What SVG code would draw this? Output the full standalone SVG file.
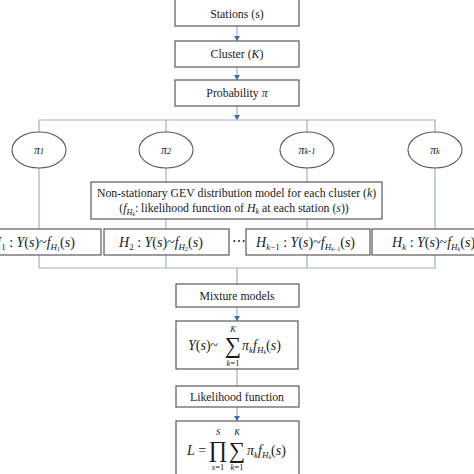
<svg xmlns="http://www.w3.org/2000/svg" width="474" height="474" viewBox="0 0 474 474">
<style>
.box{fill:#fff;stroke:#5a5a5a;stroke-width:1.2}
.ell{fill:#fff;stroke:#5a5a5a;stroke-width:1.1}
.con{fill:none;stroke:#9fb0c8;stroke-width:1.2}
.t{font-family:"Liberation Serif","Times New Roman",serif;font-size:11.8px;fill:#1a1a1a;text-anchor:middle}
.m{font-family:"Liberation Serif","Times New Roman",serif;font-size:14px;fill:#1a1a1a}
.i{font-style:italic}
.big{font-family:"Liberation Serif","Times New Roman",serif;font-size:23px;fill:#1a1a1a;text-anchor:middle}
.sm{font-family:"Liberation Serif","Times New Roman",serif;font-size:8.5px;font-style:italic;fill:#1a1a1a;text-anchor:middle}
</style>
<defs>
<marker id="ah" markerUnits="userSpaceOnUse" markerWidth="6" markerHeight="6" refX="5" refY="3" orient="auto">
<path d="M0,0 L5,3 L0,6 z" fill="#3d6bb0"/>
</marker>
</defs>
<rect width="474" height="474" fill="#fff"/>
<g id="connectors">
<line class="con" x1="237" y1="26" x2="237" y2="41" marker-end="url(#ah)"/>
<line class="con" x1="237" y1="67" x2="237" y2="80" marker-end="url(#ah)"/>
<line class="con" x1="237" y1="106" x2="237" y2="120" marker-end="url(#ah)"/>
<polyline class="con" points="39,132 39,120 435,120 435,132"/>
<line class="con" x1="166" y1="120" x2="166" y2="132"/>
<line class="con" x1="307" y1="120" x2="307" y2="132"/>
<polyline class="con" points="39,168 39,268 435,268 435,168"/>
<line class="con" x1="166" y1="168" x2="166" y2="268"/>
<line class="con" x1="307" y1="168" x2="307" y2="268"/>
<line class="con" x1="237" y1="268" x2="237" y2="284"/>
<line class="con" x1="237" y1="307" x2="237" y2="321" marker-end="url(#ah)"/>
<line class="con" x1="237" y1="369" x2="237" y2="386"/>
<line class="con" x1="237" y1="407" x2="237" y2="421" marker-end="url(#ah)"/>
</g>
<g id="stations">
<rect class="box" x="175" y="-1" width="124" height="27"/>
<text class="t" x="237" y="18">Stations (s)</text>
</g>
<g id="cluster">
<rect class="box" x="175" y="41" width="124" height="26"/>
<text class="t" x="237" y="58">Cluster (<tspan class="i">K</tspan>)</text>
</g>
<g id="probability">
<rect class="box" x="175" y="80" width="124" height="26"/>
<text class="t" x="237" y="97">Probability <tspan class="i">π</tspan></text>
</g>
<g id="pi1">
<ellipse class="ell" cx="39" cy="150" rx="27" ry="18"/>
<text class="t" x="39" y="154"><tspan class="i">π</tspan><tspan class="i" font-size="8.5">1</tspan></text>
</g>
<g id="pi2">
<ellipse class="ell" cx="166" cy="150" rx="27" ry="18"/>
<text class="t" x="166" y="154"><tspan class="i">π</tspan><tspan class="i" font-size="8.5">2</tspan></text>
</g>
<g id="pik1">
<ellipse class="ell" cx="307" cy="150" rx="27" ry="18"/>
<text class="t" x="307" y="154"><tspan class="i">π</tspan><tspan class="i" font-size="8.5">k-1</tspan></text>
</g>
<g id="pik">
<ellipse class="ell" cx="435" cy="150" rx="27" ry="18"/>
<text class="t" x="435" y="154"><tspan class="i">π</tspan><tspan class="i" font-size="8.5">k</tspan></text>
</g>
<g id="gev">
<rect class="box" x="91" y="182" width="291" height="37"/>
<text class="t" x="236.5" y="197">Non-stationary GEV distribution model for each cluster (<tspan class="i">k</tspan>)</text>
<text class="t" x="234" y="212">(<tspan class="i">f</tspan><tspan class="i" font-size="8" dy="2.5">H</tspan><tspan class="i" font-size="6" dy="1.5">k</tspan><tspan dy="-4">: likelihood function of </tspan><tspan class="i">H</tspan><tspan class="i" font-size="8" dy="2">k</tspan><tspan dy="-2"> at each station (</tspan><tspan class="i">s</tspan>))</text>
</g>
<g id="h1">
<rect class="box" x="-25" y="229" width="126" height="26"/>
<text class="m" x="-9" y="247"><tspan class="i">H</tspan><tspan font-size="9" dy="2.5">1</tspan><tspan dy="-2.5"> : </tspan><tspan class="i">Y</tspan>(<tspan class="i">s</tspan>)~<tspan class="i">f</tspan><tspan class="i" font-size="9" dy="2.5">H</tspan><tspan font-size="6" dy="1.5">1</tspan><tspan dy="-4">(</tspan><tspan class="i">s</tspan>)</text>
</g>
<g id="h2">
<rect class="box" x="104" y="229" width="125" height="26"/>
<text class="m" x="119" y="247"><tspan class="i">H</tspan><tspan font-size="9" dy="2.5">2</tspan><tspan dy="-2.5"> : </tspan><tspan class="i">Y</tspan>(<tspan class="i">s</tspan>)~<tspan class="i">f</tspan><tspan class="i" font-size="9" dy="2.5">H</tspan><tspan font-size="6" dy="1.5">2</tspan><tspan dy="-4">(</tspan><tspan class="i">s</tspan>)</text>
</g>
<text class="m" x="232" y="246">⋯</text>
<g id="hk1">
<rect class="box" x="246" y="229" width="124" height="26"/>
<text class="m" x="256" y="247"><tspan class="i">H</tspan><tspan class="i" font-size="9" dy="2.5">k</tspan><tspan font-size="9">−1</tspan><tspan dy="-2.5"> : </tspan><tspan class="i">Y</tspan>(<tspan class="i">s</tspan>)~<tspan class="i">f</tspan><tspan class="i" font-size="9" dy="2.5">H</tspan><tspan class="i" font-size="6" dy="1.5">k</tspan><tspan font-size="6">−1</tspan><tspan dy="-4">(</tspan><tspan class="i">s</tspan>)</text>
</g>
<g id="hk">
<rect class="box" x="372" y="229" width="126" height="26"/>
<text class="m" x="392" y="247"><tspan class="i">H</tspan><tspan class="i" font-size="9" dy="2.5">k</tspan><tspan dy="-2.5"> : </tspan><tspan class="i">Y</tspan>(<tspan class="i">s</tspan>)~<tspan class="i">f</tspan><tspan class="i" font-size="9" dy="2.5">H</tspan><tspan class="i" font-size="6" dy="1.5">k</tspan><tspan dy="-4">(</tspan><tspan class="i">s</tspan>)</text>
</g>
<g id="mixture">
<rect class="box" x="176" y="284" width="123" height="23"/>
<text class="t" x="237" y="300">Mixture models</text>
</g>
<g id="mixformula">
<rect class="box" x="176" y="321" width="122" height="48"/>
<text class="m" x="188" y="350"><tspan class="i">Y</tspan>(<tspan class="i">s</tspan>)~</text>
<text class="big" x="233" y="353">∑</text>
<text class="sm" x="233" y="332">K</text>
<text class="sm" x="233" y="366">k<tspan font-style="normal">=1</tspan></text>
<text class="m" x="242" y="350"><tspan class="i">π</tspan><tspan class="i" font-size="9" dy="2.5">k</tspan><tspan class="i" dy="-2.5">f</tspan><tspan class="i" font-size="9" dy="2.5">H</tspan><tspan class="i" font-size="6" dy="1.5">k</tspan><tspan dy="-4">(</tspan><tspan class="i">s</tspan>)</text>
</g>
<g id="likelihood">
<rect class="box" x="176" y="386" width="123" height="21"/>
<text class="t" x="237" y="401">Likelihood function</text>
</g>
<g id="lformula">
<rect class="box" x="176" y="421" width="123" height="60"/>
<text class="m" x="187" y="455"><tspan class="i">L</tspan> =</text>
<text class="big" x="218" y="457">∏</text>
<text class="big" x="237" y="458">∑</text>
<text class="sm" x="218" y="435">S</text>
<text class="sm" x="237" y="435">K</text>
<text class="sm" x="218" y="470">s<tspan font-style="normal">=1</tspan></text>
<text class="sm" x="237" y="470">k<tspan font-style="normal">=1</tspan></text>
<text class="m" x="247" y="455"><tspan class="i">π</tspan><tspan class="i" font-size="9" dy="2.5">k</tspan><tspan class="i" dy="-2.5">f</tspan><tspan class="i" font-size="9" dy="2.5">H</tspan><tspan class="i" font-size="6" dy="1.5">k</tspan><tspan dy="-4">(</tspan><tspan class="i">s</tspan>)</text>
</g>
</svg>
